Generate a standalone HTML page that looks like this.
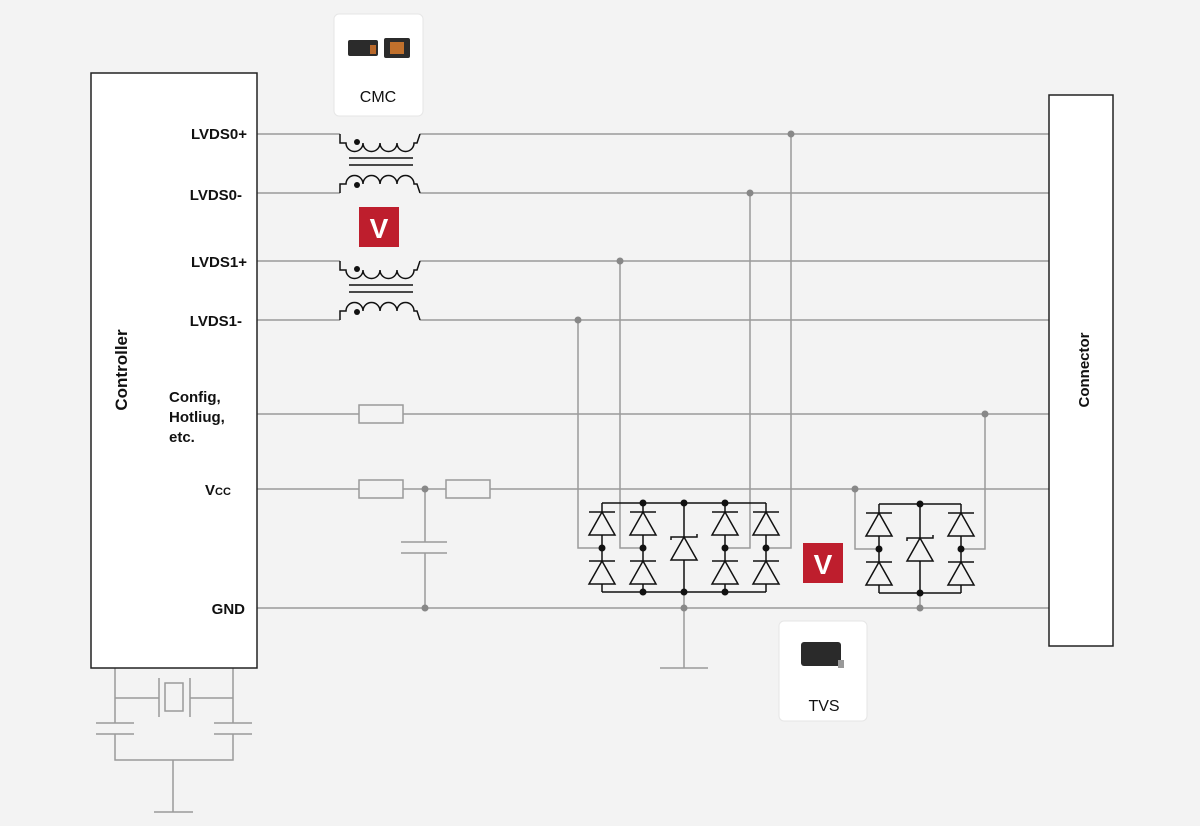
<!DOCTYPE html>
<html><head><meta charset="utf-8"><style>
html,body{margin:0;padding:0;background:#f3f3f3;}
svg{display:block}
text{font-family:"Liberation Sans",sans-serif;}
</style></head><body>
<svg width="1200" height="826" viewBox="0 0 1200 826" xmlns="http://www.w3.org/2000/svg">
<defs>
<g id="dup"><line x1="-13" y1="0" x2="13" y2="0"/><path d="M0,0 L-13,23 L13,23 Z" fill="none"/></g>
</defs>
<rect width="1200" height="826" fill="#f3f3f3"/>
<!-- signal lines -->
<g stroke="#9a9a9a" stroke-width="1.5" fill="none">
<path d="M257,134 H340 M420,134 H1049"/>
<path d="M257,193 H340 M420,193 H1049"/>
<path d="M257,261 H340 M420,261 H1049"/>
<path d="M257,320 H340 M420,320 H1049"/>
<path d="M257,414 H359 M403,414 H1049"/>
<path d="M257,489 H359 M403,489 H446 M490,489 H1049"/>
<path d="M257,608 H1049"/>
<rect x="359" y="405" width="44" height="18"/>
<rect x="359" y="480" width="44" height="18"/>
<rect x="446" y="480" width="44" height="18"/>
<path d="M425,489 V542 M401,542 H447 M401,553 H447 M425,553 V608"/>
<!-- taps -->
<path d="M578,320 V548 H602 M620,261 V548 H643 M750,193 V548 H725 M791,134 V548 H766"/>
<path d="M855,489 V549 H879 M985,414 V549 H961"/>
<path d="M684,592 V668 M660,668 H708 M920,593 V608"/>
<!-- crystal -->
<path d="M115,668 V723 M233,668 V723 M115,698 H159 M190,698 H233 M159,678 V717 M190,678 V717"/>
<rect x="165" y="683" width="18" height="28"/>
<path d="M96,723 H134 M96,734 H134 M214,723 H252 M214,734 H252 M115,734 V760 H233 V734 M173,760 V812 M154,812 H193"/>
</g>
<g fill="#888">
<circle cx="791" cy="134" r="3.5"/><circle cx="750" cy="193" r="3.5"/><circle cx="620" cy="261" r="3.5"/><circle cx="578" cy="320" r="3.5"/>
<circle cx="985" cy="414" r="3.5"/><circle cx="425" cy="489" r="3.5"/><circle cx="855" cy="489" r="3.5"/>
<circle cx="425" cy="608" r="3.5"/><circle cx="684" cy="608" r="3.5"/><circle cx="920" cy="608" r="3.5"/>
</g>
<!-- CMC coils -->
<g stroke="#111" stroke-width="1.5" fill="none">
<path d="M340,134 V143 H346 a8.5,8.5 0 0 0 17,0 a8.5,8.5 0 0 0 17,0 a8.5,8.5 0 0 0 17,0 a8.5,8.5 0 0 0 17,0 H417 L420,134"/>
<path d="M340,193 V184 H346 a8.5,8.5 0 0 1 17,0 a8.5,8.5 0 0 1 17,0 a8.5,8.5 0 0 1 17,0 a8.5,8.5 0 0 1 17,0 H417 L420,193"/>
<path d="M349,158 H413 M349,165 H413"/>
<path d="M340,261 V270 H346 a8.5,8.5 0 0 0 17,0 a8.5,8.5 0 0 0 17,0 a8.5,8.5 0 0 0 17,0 a8.5,8.5 0 0 0 17,0 H417 L420,261"/>
<path d="M340,320 V311 H346 a8.5,8.5 0 0 1 17,0 a8.5,8.5 0 0 1 17,0 a8.5,8.5 0 0 1 17,0 a8.5,8.5 0 0 1 17,0 H417 L420,320"/>
<path d="M349,285 H413 M349,292 H413"/>
</g>
<g fill="#111"><circle cx="357" cy="142" r="3"/><circle cx="357" cy="185" r="3"/><circle cx="357" cy="269" r="3"/><circle cx="357" cy="312" r="3"/></g>
<!-- TVS arrays -->
<g stroke="#111" stroke-width="1.5" fill="none">
<path d="M602,503 H766 M602,592 H766"/>
<path d="M602,503 V512 M602,535 V561 M602,584 V592 M643,503 V512 M643,535 V561 M643,584 V592 M725,503 V512 M725,535 V561 M725,584 V592 M766,503 V512 M766,535 V561 M766,584 V592"/>
<use href="#dup" x="602" y="512"/><use href="#dup" x="602" y="561"/>
<use href="#dup" x="643" y="512"/><use href="#dup" x="643" y="561"/>
<use href="#dup" x="725" y="512"/><use href="#dup" x="725" y="561"/>
<use href="#dup" x="766" y="512"/><use href="#dup" x="766" y="561"/>
<path d="M684,503 V537 M684,560 V592 M671,540 V537 H697 V534"/>
<path d="M684,537 L671,560 H697 Z"/>
<path d="M879,504 H961 M879,593 H961 M879,504 V513 M879,536 V562 M879,585 V593 M961,504 V513 M961,536 V562 M961,585 V593"/>
<use href="#dup" x="879" y="513"/><use href="#dup" x="879" y="562"/>
<use href="#dup" x="961" y="513"/><use href="#dup" x="961" y="562"/>
<path d="M920,504 V538 M920,561 V593 M907,541 V538 H933 V535"/>
<path d="M920,538 L907,561 H933 Z"/>
</g>
<g fill="#111">
<circle cx="643" cy="503" r="3.5"/><circle cx="684" cy="503" r="3.5"/><circle cx="725" cy="503" r="3.5"/>
<circle cx="602" cy="548" r="3.5"/><circle cx="643" cy="548" r="3.5"/><circle cx="725" cy="548" r="3.5"/><circle cx="766" cy="548" r="3.5"/>
<circle cx="643" cy="592" r="3.5"/><circle cx="684" cy="592" r="3.5"/><circle cx="725" cy="592" r="3.5"/>
<circle cx="920" cy="504" r="3.5"/><circle cx="879" cy="549" r="3.5"/><circle cx="961" cy="549" r="3.5"/><circle cx="920" cy="593" r="3.5"/>
</g>
<!-- boxes -->
<rect x="91" y="73" width="166" height="595" fill="#fff" stroke="#222" stroke-width="1.5"/>
<rect x="1049" y="95" width="64" height="551" fill="#fff" stroke="#222" stroke-width="1.5"/>
<text transform="translate(127,370) rotate(-90)" text-anchor="middle" font-size="17" font-weight="bold" fill="#111">Controller</text>
<text transform="translate(1089,370) rotate(-90)" text-anchor="middle" font-size="15" font-weight="bold" fill="#111">Connector</text>
<g font-size="15" font-weight="bold" fill="#111" text-anchor="end">
<text x="247" y="139">LVDS0+</text>
<text x="242" y="200">LVDS0-</text>
<text x="247" y="267">LVDS1+</text>
<text x="242" y="326">LVDS1-</text>
<text x="245" y="614">GND</text>
</g>
<g font-size="15" font-weight="bold" fill="#111">
<text x="169" y="402">Config,</text>
<text x="169" y="422">Hotliug,</text>
<text x="169" y="442">etc.</text>
<text x="205" y="495">V<tspan font-size="11">CC</tspan></text>
</g>
<!-- cards -->
<rect x="334" y="14" width="89" height="102" rx="5" fill="#fff" stroke="#e6e6e6"/>
<rect x="348" y="40" width="30" height="16" rx="2" fill="#2b2b2b"/><rect x="370" y="45" width="6" height="9" fill="#b8682a"/>
<rect x="384" y="38" width="26" height="20" rx="2" fill="#2b2b2b"/><rect x="390" y="42" width="14" height="12" fill="#c0702c"/>
<text x="378" y="102" text-anchor="middle" font-size="16" fill="#111">CMC</text>
<rect x="779" y="621" width="88" height="100" rx="5" fill="#fff" stroke="#e6e6e6"/>
<rect x="801" y="642" width="40" height="24" rx="3" fill="#2a2a2a"/><rect x="838" y="660" width="6" height="8" fill="#999"/>
<text x="824" y="711" text-anchor="middle" font-size="16" fill="#111">TVS</text>
<!-- logos -->
<rect x="359" y="207" width="40" height="40" fill="#be1e2d"/>
<text x="379" y="238" text-anchor="middle" font-size="28" font-weight="bold" fill="#fff">V</text>
<rect x="803" y="543" width="40" height="40" fill="#be1e2d"/>
<text x="823" y="574" text-anchor="middle" font-size="28" font-weight="bold" fill="#fff">V</text>
</svg>
</body></html>
